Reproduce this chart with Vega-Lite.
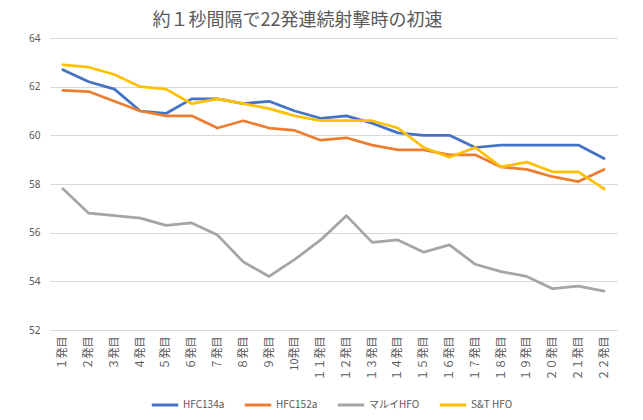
{
  "$schema": "https://vega.github.io/schema/vega-lite/v6.json",
  "width": 567,
  "height": 292,
  "autosize": {"type": "none"},
  "padding": {"left": 50, "top": 38, "right": 26, "bottom": 90},
  "background": "white",
  "title": {
    "text": "約１秒間隔で22発連続射撃時の初速",
    "fontSize": 18,
    "fontWeight": "normal",
    "font": "Noto Sans CJK JP",
    "color": "#595959",
    "anchor": "middle",
    "dx": -36,
    "offset": 3
  },
  "data": {
    "values": [
      {"shot": "１発目", "series": "HFC134a", "v": 62.7},
      {"shot": "２発目", "series": "HFC134a", "v": 62.2},
      {"shot": "３発目", "series": "HFC134a", "v": 61.9},
      {"shot": "４発目", "series": "HFC134a", "v": 61.0},
      {"shot": "５発目", "series": "HFC134a", "v": 60.9},
      {"shot": "６発目", "series": "HFC134a", "v": 61.5},
      {"shot": "７発目", "series": "HFC134a", "v": 61.5},
      {"shot": "８発目", "series": "HFC134a", "v": 61.3},
      {"shot": "９発目", "series": "HFC134a", "v": 61.4},
      {"shot": "10発目", "series": "HFC134a", "v": 61.0},
      {"shot": "１１発目", "series": "HFC134a", "v": 60.7},
      {"shot": "１２発目", "series": "HFC134a", "v": 60.8},
      {"shot": "１３発目", "series": "HFC134a", "v": 60.5},
      {"shot": "１４発目", "series": "HFC134a", "v": 60.1},
      {"shot": "１５発目", "series": "HFC134a", "v": 60.0},
      {"shot": "１６発目", "series": "HFC134a", "v": 60.0},
      {"shot": "１７発目", "series": "HFC134a", "v": 59.5},
      {"shot": "１８発目", "series": "HFC134a", "v": 59.6},
      {"shot": "１９発目", "series": "HFC134a", "v": 59.6},
      {"shot": "２０発目", "series": "HFC134a", "v": 59.6},
      {"shot": "２１発目", "series": "HFC134a", "v": 59.6},
      {"shot": "２２発目", "series": "HFC134a", "v": 59.05},
      {"shot": "１発目", "series": "HFC152a", "v": 61.85},
      {"shot": "２発目", "series": "HFC152a", "v": 61.8},
      {"shot": "３発目", "series": "HFC152a", "v": 61.4},
      {"shot": "４発目", "series": "HFC152a", "v": 61.0},
      {"shot": "５発目", "series": "HFC152a", "v": 60.8},
      {"shot": "６発目", "series": "HFC152a", "v": 60.8},
      {"shot": "７発目", "series": "HFC152a", "v": 60.3},
      {"shot": "８発目", "series": "HFC152a", "v": 60.6},
      {"shot": "９発目", "series": "HFC152a", "v": 60.3},
      {"shot": "10発目", "series": "HFC152a", "v": 60.2},
      {"shot": "１１発目", "series": "HFC152a", "v": 59.8},
      {"shot": "１２発目", "series": "HFC152a", "v": 59.9},
      {"shot": "１３発目", "series": "HFC152a", "v": 59.6},
      {"shot": "１４発目", "series": "HFC152a", "v": 59.4},
      {"shot": "１５発目", "series": "HFC152a", "v": 59.4},
      {"shot": "１６発目", "series": "HFC152a", "v": 59.2},
      {"shot": "１７発目", "series": "HFC152a", "v": 59.2},
      {"shot": "１８発目", "series": "HFC152a", "v": 58.7},
      {"shot": "１９発目", "series": "HFC152a", "v": 58.6},
      {"shot": "２０発目", "series": "HFC152a", "v": 58.3},
      {"shot": "２１発目", "series": "HFC152a", "v": 58.1},
      {"shot": "２２発目", "series": "HFC152a", "v": 58.6},
      {"shot": "１発目", "series": "マルイHFO", "v": 57.8},
      {"shot": "２発目", "series": "マルイHFO", "v": 56.8},
      {"shot": "３発目", "series": "マルイHFO", "v": 56.7},
      {"shot": "４発目", "series": "マルイHFO", "v": 56.6},
      {"shot": "５発目", "series": "マルイHFO", "v": 56.3},
      {"shot": "６発目", "series": "マルイHFO", "v": 56.4},
      {"shot": "７発目", "series": "マルイHFO", "v": 55.9},
      {"shot": "８発目", "series": "マルイHFO", "v": 54.8},
      {"shot": "９発目", "series": "マルイHFO", "v": 54.2},
      {"shot": "10発目", "series": "マルイHFO", "v": 54.9},
      {"shot": "１１発目", "series": "マルイHFO", "v": 55.7},
      {"shot": "１２発目", "series": "マルイHFO", "v": 56.7},
      {"shot": "１３発目", "series": "マルイHFO", "v": 55.6},
      {"shot": "１４発目", "series": "マルイHFO", "v": 55.7},
      {"shot": "１５発目", "series": "マルイHFO", "v": 55.2},
      {"shot": "１６発目", "series": "マルイHFO", "v": 55.5},
      {"shot": "１７発目", "series": "マルイHFO", "v": 54.7},
      {"shot": "１８発目", "series": "マルイHFO", "v": 54.4},
      {"shot": "１９発目", "series": "マルイHFO", "v": 54.2},
      {"shot": "２０発目", "series": "マルイHFO", "v": 53.7},
      {"shot": "２１発目", "series": "マルイHFO", "v": 53.8},
      {"shot": "２２発目", "series": "マルイHFO", "v": 53.6},
      {"shot": "１発目", "series": "S&T HFO", "v": 62.9},
      {"shot": "２発目", "series": "S&T HFO", "v": 62.8},
      {"shot": "３発目", "series": "S&T HFO", "v": 62.5},
      {"shot": "４発目", "series": "S&T HFO", "v": 62.0},
      {"shot": "５発目", "series": "S&T HFO", "v": 61.9},
      {"shot": "６発目", "series": "S&T HFO", "v": 61.3},
      {"shot": "７発目", "series": "S&T HFO", "v": 61.5},
      {"shot": "８発目", "series": "S&T HFO", "v": 61.3},
      {"shot": "９発目", "series": "S&T HFO", "v": 61.1},
      {"shot": "10発目", "series": "S&T HFO", "v": 60.8},
      {"shot": "１１発目", "series": "S&T HFO", "v": 60.6},
      {"shot": "１２発目", "series": "S&T HFO", "v": 60.6},
      {"shot": "１３発目", "series": "S&T HFO", "v": 60.6},
      {"shot": "１４発目", "series": "S&T HFO", "v": 60.3},
      {"shot": "１５発目", "series": "S&T HFO", "v": 59.5},
      {"shot": "１６発目", "series": "S&T HFO", "v": 59.1},
      {"shot": "１７発目", "series": "S&T HFO", "v": 59.5},
      {"shot": "１８発目", "series": "S&T HFO", "v": 58.7},
      {"shot": "１９発目", "series": "S&T HFO", "v": 58.9},
      {"shot": "２０発目", "series": "S&T HFO", "v": 58.5},
      {"shot": "２１発目", "series": "S&T HFO", "v": 58.5},
      {"shot": "２２発目", "series": "S&T HFO", "v": 57.8}
    ]
  },
  "mark": {"type": "line", "strokeWidth": 2.75, "strokeJoin": "round", "strokeCap": "round"},
  "encoding": {
    "x": {
      "field": "shot",
      "type": "ordinal",
      "sort": null,
      "scale": {"type": "point", "padding": 0.5},
      "axis": {
        "title": null,
        "labelAngle": -90,
        "labelFontSize": 11,
        "labelFont": "Noto Sans CJK JP",
        "labelColor": "#595959",
        "labelPadding": 6,
        "ticks": false,
        "domainColor": "#d9d9d9",
        "domainWidth": 1,
        "grid": false
      }
    },
    "y": {
      "field": "v",
      "type": "quantitative",
      "scale": {"domain": [52, 64], "nice": false, "zero": false},
      "axis": {
        "title": null,
        "values": [52, 54, 56, 58, 60, 62, 64],
        "labelFontSize": 10,
        "labelFont": "Noto Sans",
        "labelColor": "#595959",
        "labelPadding": 10,
        "ticks": false,
        "domain": false,
        "gridColor": "#d9d9d9",
        "gridWidth": 1
      }
    },
    "color": {
      "field": "series",
      "type": "nominal",
      "sort": ["HFC134a", "HFC152a", "マルイHFO", "S&T HFO"],
      "scale": {
        "domain": ["HFC134a", "HFC152a", "マルイHFO", "S&T HFO"],
        "range": ["#4472C4", "#ED7D31", "#A5A5A5", "#FFC000"]
      },
      "legend": {
        "title": null,
        "orient": "none",
        "legendX": 100,
        "legendY": 352,
        "direction": "horizontal",
        "symbolType": "stroke",
        "symbolSize": 700,
        "symbolStrokeWidth": 3,
        "labelFontSize": 10,
        "labelFont": "Noto Sans CJK JP",
        "labelColor": "#595959",
        "labelOffset": 3,
        "columnPadding": 13
      }
    }
  },
  "config": {"view": {"stroke": null}}
}
